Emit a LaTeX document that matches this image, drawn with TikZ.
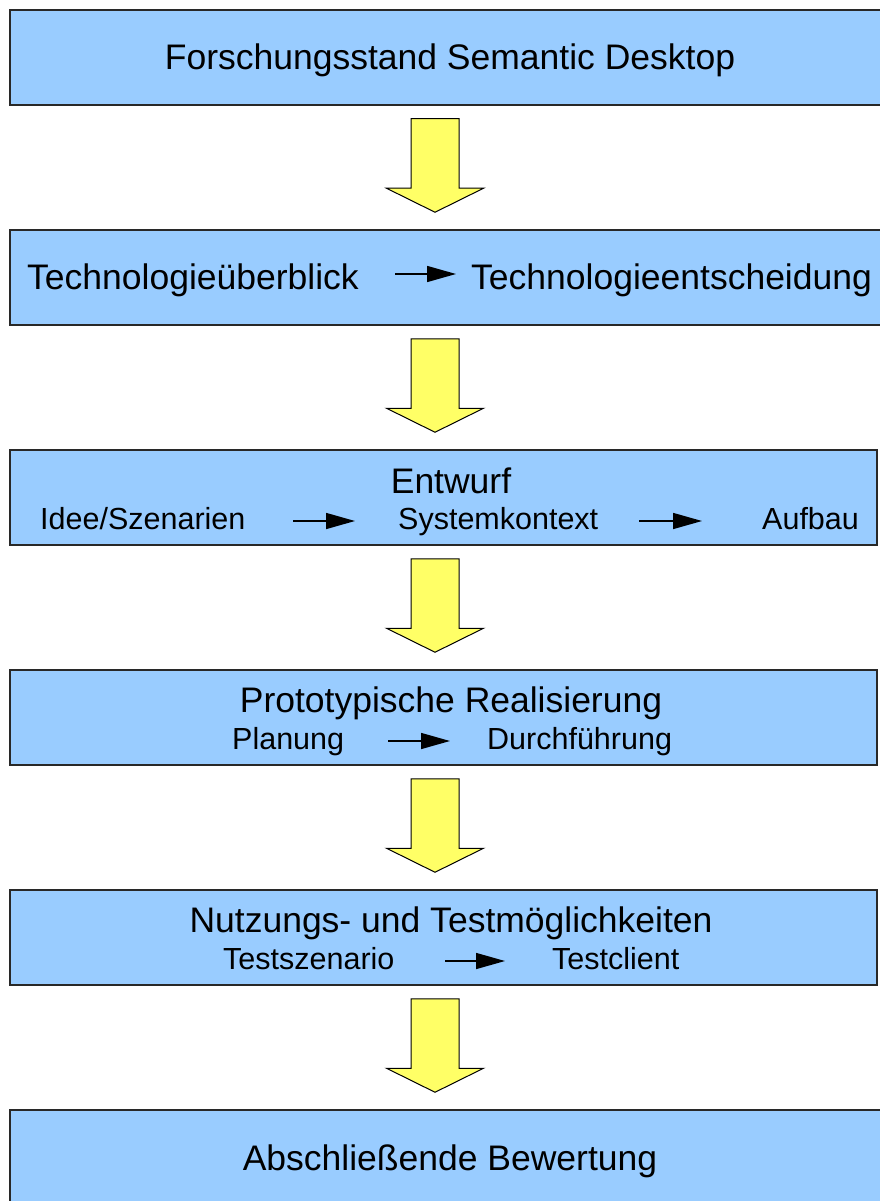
\documentclass[tikz,border=0pt]{standalone}
\usepackage{fontspec}
\setmainfont{Liberation Sans}
\usetikzlibrary{arrows.meta,calc}
\definecolor{boxblue}{RGB}{153,204,255}
\definecolor{arrowyellow}{RGB}{255,255,102}
\definecolor{edge}{RGB}{40,40,40}
\begin{document}
\begin{tikzpicture}[x=1pt,y=-1pt,
  stage/.style={draw=edge, line width=1.5pt, fill=boxblue, rectangle,
    inner sep=0pt, minimum height=95pt},
  title/.style={anchor=base, inner sep=0pt, font=\fontsize{35.5}{40}\selectfont},
  toplabel/.style={anchor=base west, inner sep=0pt, font=\fontsize{35.5}{40}\selectfont},
  sublabel/.style={anchor=base west, inner sep=0pt, font=\fontsize{30.5}{35}\selectfont},
  flow/.style={line width=1.5pt, -{Triangle[length=29pt,width=16pt]}},
  bigarrow/.style={draw=black, line width=1pt, fill=arrowyellow, line join=miter,
    to path={
      ($(\tikztostart)+(-24,13)$) -- ($(\tikztostart)+(24,13)$)
      -- ($(\tikztotarget)+(24,-41)$) -- ($(\tikztotarget)+(48.5,-41)$)
      -- ($(\tikztotarget)+(0,-17)$) -- ($(\tikztotarget)+(-48.5,-41)$)
      -- ($(\tikztotarget)+(-24,-41)$) -- cycle}}
]
\useasboundingbox (0,0) rectangle (880,1201);
\fill[white] (0,0) rectangle (880,1201);

% stages
\node[stage, minimum width=890pt] (b1) at (455,57.5) {};
\node[stage, minimum width=890pt] (b2) at (455,277.5) {};
\node[stage, minimum width=867pt] (b3) at (443.5,497.5) {};
\node[stage, minimum width=867pt] (b4) at (443.5,717.5) {};
\node[stage, minimum width=867pt] (b5) at (443.5,937.5) {};
\node[stage, minimum width=890pt] (b6) at (455,1157.5) {};

% block arrows between the stages
\coordinate (ax) at (435,0);
\path[bigarrow] (b1.south -| ax) to (b2.north -| ax);
\path[bigarrow] (b2.south -| ax) to (b3.north -| ax);
\path[bigarrow] (b3.south -| ax) to (b4.north -| ax);
\path[bigarrow] (b4.south -| ax) to (b5.north -| ax);
\path[bigarrow] (b5.south -| ax) to (b6.north -| ax);

% stage 1
\node[title] (t1) at (450,70) {Forschungsstand Semantic Desktop};

% stage 2
\node[toplabel] (t2a) at (27,289) {Technologieüberblick};
\node[toplabel] (t2b) at (471,289) {Technologieentscheidung};
\coordinate (f2a) at (395,274);
\coordinate (f2b) at (456,274);
\draw[flow] (f2a) -- (f2b);

% stage 3
\node[title] (t3) at (451,493) {Entwurf};
\node[sublabel] (t3a) at (40,529) {Idee/Szenarien};
\node[sublabel] (t3b) at (398,529) {Systemkontext};
\node[sublabel] (t3c) at (762,529) {Aufbau};
\coordinate (f3a) at (293,521);
\coordinate (f3b) at (355,521);
\coordinate (f3c) at (639,521);
\coordinate (f3d) at (702,521);
\draw[flow] (f3a) -- (f3b);
\draw[flow] (f3c) -- (f3d);

% stage 4
\node[title] (t4) at (451,712) {Prototypische Realisierung};
\node[sublabel] (t4a) at (232,749) {Planung};
\node[sublabel] (t4b) at (487,749) {Durchführung};
\coordinate (f4a) at (388,741);
\coordinate (f4b) at (450,741);
\draw[flow] (f4a) -- (f4b);

% stage 5
\node[title] (t5) at (451,932) {Nutzungs- und Testmöglichkeiten};
\node[sublabel] (t5a) at (223,969) {Testszenario};
\node[sublabel] (t5b) at (552,969) {Testclient};
\coordinate (f5a) at (445,961);
\coordinate (f5b) at (505,961);
\draw[flow] (f5a) -- (f5b);

% stage 6
\node[title] (t6) at (450,1170) {Abschließende Bewertung};
\end{tikzpicture}
\end{document}
